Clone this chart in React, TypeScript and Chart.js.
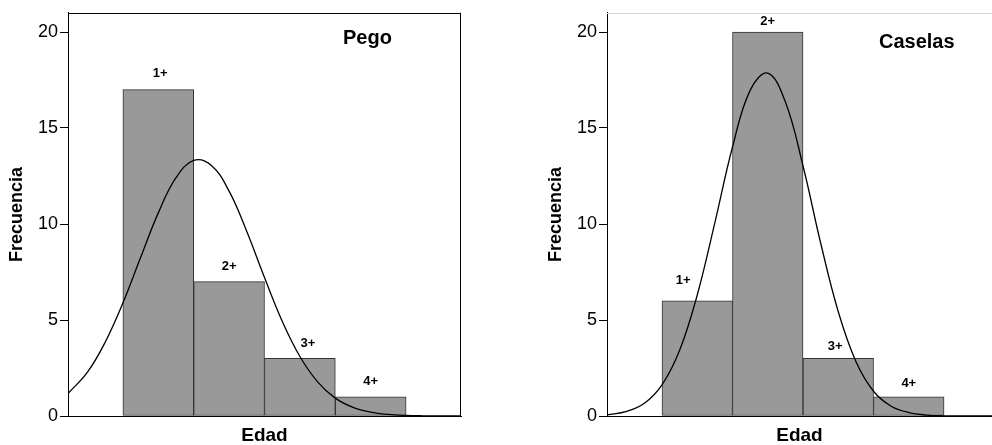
import React, { useEffect, useRef } from 'react';
import { Chart, registerables } from 'chart.js';

Chart.register(...registerables);

// ---- data ----
const ageLabels = ['1+', '2+', '3+', '4+'];
const ageBins = [1, 2, 3, 4];
const pegoCounts = [17, 7, 3, 1];
const caselasCounts = [6, 20, 3, 1];
const yTicks = [0, 5, 10, 15, 20];

// fitted normal curves
const pegoCurveX = [-0.275, 0, 0.25, 0.5, 0.75, 1, 1.25, 1.5, 1.75, 2, 2.25, 2.5, 2.75, 3, 3.25, 3.5, 3.75, 4, 4.25, 4.5, 4.75, 5, 5.275];
const pegoCurveY = [1.17, 2.28, 3.84, 5.88, 8.25, 10.58, 12.41, 13.31, 13.05, 11.71, 9.61, 7.21, 4.94, 3.1, 1.78, 0.93, 0.45, 0.2, 0.08, 0.03, 0.01, 0, 0];
const caselasCurveX = [-0.28, 0, 0.25, 0.5, 0.75, 1, 1.25, 1.5, 1.75, 2, 2.25, 2.5, 2.75, 3, 3.25, 3.5, 3.75, 4, 4.25, 4.5, 4.75, 5, 5.18];
const caselasCurveY = [0.06, 0.24, 0.66, 1.62, 3.42, 6.3, 10.07, 14.01, 16.96, 17.86, 16.35, 13.02, 9.01, 5.43, 2.84, 1.29, 0.51, 0.18, 0.05, 0.01, 0, 0, 0];

const FONT = '"Liberation Sans", Arial, Helvetica, sans-serif';

type PanelProps = {
  left: number;
  width: number;
  padRight: number;
  counts: number[];
  curveX: number[];
  curveY: number[];
  xMin: number;
  xMax: number;
  title: string;
  titleDx: number;
  titleDy: number;
  fullFrame: boolean;
  labelLift: number[];
  labelShift: number[];
};

function Panel(p: PanelProps) {
  const ref = useRef<HTMLCanvasElement>(null);
  useEffect(() => {
    if (!ref.current) return;
    const decor = {
      id: 'decor',
      afterDatasetsDraw(chart: any) {
        const { ctx, chartArea: a } = chart;
        ctx.save();
        ctx.lineWidth = 1;
        const t = Math.round(a.top) + 0.5;
        ctx.strokeStyle = p.fullFrame ? '#000' : '#d6d6d6';
        ctx.beginPath();
        ctx.moveTo(a.left, t);
        ctx.lineTo(a.right, t);
        ctx.stroke();
        if (p.fullFrame) {
          const r = Math.round(a.right) - 0.5;
          ctx.strokeStyle = '#000';
          ctx.beginPath();
          ctx.moveTo(r, a.top);
          ctx.lineTo(r, a.bottom);
          ctx.stroke();
        }
        const meta = chart.getDatasetMeta(0);
        ctx.fillStyle = '#000';
        ctx.font = `bold 13px ${FONT}`;
        ctx.textAlign = 'center';
        ctx.textBaseline = 'alphabetic';
        meta.data.forEach((el: any, i: number) => {
          ctx.fillText(ageLabels[i], el.x + p.labelShift[i], el.y - p.labelLift[i]);
        });
        ctx.font = `bold 20px ${FONT}`;
        ctx.textAlign = 'left';
        ctx.fillText(p.title, a.left + p.titleDx, a.top + p.titleDy);
        ctx.restore();
      },
    };
    const chart = new Chart(ref.current, {
      type: 'bar',
      data: {
        datasets: [
          {
            type: 'bar',
            data: ageBins.map((x, i) => ({ x, y: p.counts[i] })),
            backgroundColor: '#999999',
            borderColor: '#333333',
            borderWidth: 1,
            borderSkipped: false,
            barPercentage: 1,
            categoryPercentage: 1,
            order: 1,
          } as any,
          {
            type: 'line',
            data: p.curveX.map((x, i) => ({ x, y: p.curveY[i] })),
            borderColor: '#000',
            borderWidth: 1.3,
            pointRadius: 0,
            tension: 0.4,
            fill: false,
            order: 0,
          } as any,
        ],
      },
      plugins: [decor],
      options: {
        responsive: false,
        animation: false,
        layout: { padding: { top: 12, right: p.padRight, left: 0, bottom: 0 } },
        plugins: { legend: { display: false }, tooltip: { enabled: false } },
        scales: {
          x: {
            type: 'linear',
            min: p.xMin,
            max: p.xMax,
            offset: false,
            grid: { display: false, drawTicks: false },
            border: { display: true, color: '#000', width: 1 },
            ticks: { display: false },
            title: {
              display: true,
              text: 'Edad',
              color: '#000',
              font: { family: FONT, size: 19, weight: 'bold', lineHeight: 1 },
              padding: 0,
            },
            afterFit: (s: any) => {
              s.height = 29;
            },
          },
          y: {
            type: 'linear',
            min: 0,
            max: 21,
            ticks: {
              stepSize: 5,
              includeBounds: false,
              color: '#000',
              font: { family: FONT, size: 18 },
              padding: 2,
            },
            afterBuildTicks: (s: any) => {
              s.ticks = yTicks.map((v) => ({ value: v }));
            },
            grid: { display: true, drawOnChartArea: false, drawTicks: true, tickLength: 8, color: '#000' },
            border: { display: true, color: '#000', width: 1 },
            title: {
              display: true,
              text: 'Frecuencia',
              color: '#000',
              font: { family: FONT, size: 18, weight: 'bold' },
              padding: { top: 6, bottom: 0 },
            },
            afterFit: (s: any) => {
              s.width = 68;
            },
          },
        },
      } as any,
    });
    return () => chart.destroy();
  }, []);
  return (
    <canvas
      ref={ref}
      width={p.width}
      height={445}
      style={{ position: 'absolute', left: p.left, top: 0, width: p.width, height: 445 }}
    />
  );
}

export default function App() {
  return (
    <div style={{ position: 'fixed', left: 0, top: 0, width: 992, height: 445, background: '#fff', overflow: 'hidden' }}>
      <Panel
        left={0}
        width={480}
        padRight={19}
        counts={pegoCounts}
        curveX={pegoCurveX}
        curveY={pegoCurveY}
        xMin={-0.275}
        xMax={5.275}
        title="Pego"
        titleDx={275}
        titleDy={31}
        fullFrame={true}
        labelLift={[13, 12, 11, 12]}
        labelShift={[2, 0, 8, 0]}
      />
      <Panel
        left={539}
        width={453}
        padRight={0}
        counts={caselasCounts}
        curveX={caselasCurveX}
        curveY={caselasCurveY}
        xMin={-0.28}
        xMax={5.18}
        title="Caselas"
        titleDx={272}
        titleDy={35}
        fullFrame={false}
        labelLift={[17, 7, 8, 10]}
        labelShift={[-14, 0, -3, 0]}
      />
    </div>
  );
}
